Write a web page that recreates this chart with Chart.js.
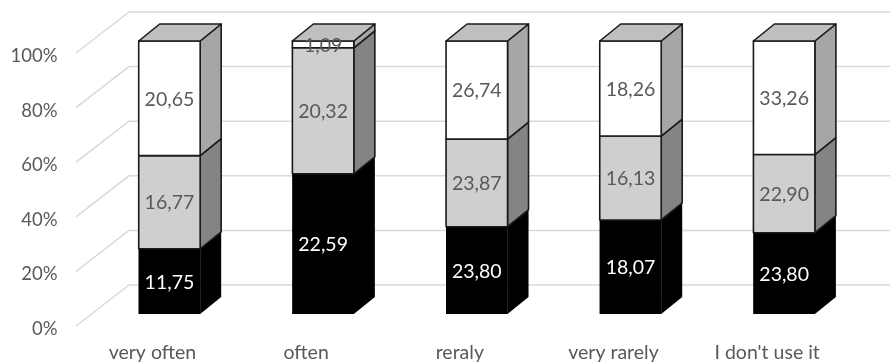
<!DOCTYPE html>
<html>
<head>
<meta charset="utf-8">
<style>
  html, body { margin: 0; padding: 0; background: #fff; }
  canvas { display: block; }
</style>
<script src="https://cdn.jsdelivr.net/npm/chart.js@4"></script>
</head>
<body>
<canvas id="chart" width="890" height="362"></canvas>
<script>
const categories = ['very often', 'often', 'reraly', 'very rarely', "I don't use it"];
const seriesBottom = [11.75, 22.59, 23.80, 18.07, 23.80];
const seriesMiddle = [16.77, 20.32, 23.87, 16.13, 22.90];
const seriesTop = [20.65, 1.09, 26.74, 18.26, 33.26];
const percentTicks = [0, 20, 40, 60, 80, 100];

// Each column is normalised to 100 %, the printed labels keep the raw figures.
const totals = categories.map((_, i) => seriesBottom[i] + seriesMiddle[i] + seriesTop[i]);
const toShare = values => values.map((v, i) => v / totals[i] * 100);

const FONT = 'Lato, "Open Sans", sans-serif';
const TEXT = '#595959';
const GRID = '#d9d9d9';

// Oblique projection of the box depth and of the back wall.
const BAR_DX = 21, BAR_DY = 17;
const WALL_X = 129, WALL_DY = 29, FLOOR_X = 76, FLOOR_DY = 12;

const layers = [
  { values: seriesBottom, front: '#000000', side: '#000000', text: '#ffffff' },
  { values: seriesMiddle, front: '#d0cece', side: '#868383', text: TEXT },
  { values: seriesTop,    front: '#ffffff', side: '#a6a6a6', text: TEXT }
];
const TOP_FACE = '#bfbfbf';
const EDGE = '#1a1a1a';

function polygon(ctx, pts, fill, stroke) {
  ctx.beginPath();
  pts.forEach((p, i) => i ? ctx.lineTo(p[0], p[1]) : ctx.moveTo(p[0], p[1]));
  ctx.closePath();
  ctx.fillStyle = fill;
  ctx.fill();
  if (stroke) {
    ctx.strokeStyle = stroke;
    ctx.lineWidth = 1.6;
    ctx.lineJoin = 'round';
    ctx.stroke();
  }
}

const wallGrid = {
  id: 'wallGrid',
  beforeDatasetsDraw(chart) {
    const { ctx, scales: { y }, width } = chart;
    ctx.save();
    ctx.strokeStyle = GRID;
    ctx.lineWidth = 1.5;
    percentTicks.forEach(t => {
      const py = y.getPixelForValue(t);
      ctx.beginPath();
      ctx.moveTo(FLOOR_X, py + FLOOR_DY);
      ctx.lineTo(WALL_X, py - WALL_DY);
      ctx.lineTo(width, py - WALL_DY);
      ctx.stroke();
    });
    ctx.restore();
  }
};

const boxFaces = {
  id: 'boxFaces',
  afterDatasetsDraw(chart) {
    const { ctx } = chart;
    ctx.save();
    layers.forEach((layer, d) => {
      const stroke = layer.front === '#000000' ? null : EDGE;
      chart.getDatasetMeta(d).data.forEach(bar => {
        const l = bar.x - bar.width / 2, r = bar.x + bar.width / 2;
        const t = bar.y, b = bar.base;
        polygon(ctx, [[r, t], [r + BAR_DX, t - BAR_DY], [r + BAR_DX, b - BAR_DY], [r, b]], layer.side, stroke);
        polygon(ctx, [[l, t], [r, t], [r, b], [l, b]], layer.front, stroke);
        if (d === layers.length - 1) {
          polygon(ctx, [[l, t], [l + BAR_DX, t - BAR_DY], [r + BAR_DX, t - BAR_DY], [r, t]], TOP_FACE, stroke);
        }
      });
    });
    ctx.font = '19.5px ' + FONT;
    ctx.textAlign = 'center';
    ctx.textBaseline = 'middle';
    layers.forEach((layer, d) => {
      ctx.fillStyle = layer.text;
      chart.getDatasetMeta(d).data.forEach((bar, i) => {
        const label = layer.values[i].toFixed(2).replace('.', ',');
        ctx.fillText(label, bar.x, (bar.y + bar.base) / 2 + 1);
      });
    });
    ctx.restore();
  }
};

new Chart(document.getElementById('chart'), {
  type: 'bar',
  data: {
    labels: categories,
    datasets: layers.map(layer => ({
      data: toShare(layer.values),
      backgroundColor: layer.front,
      borderWidth: 0,
      barPercentage: 0.4,
      categoryPercentage: 1
    }))
  },
  options: {
    responsive: false,
    animation: false,
    layout: { padding: { left: 0, right: 29, top: 41, bottom: 0 } },
    plugins: { legend: { display: false }, tooltip: { enabled: false } },
    scales: {
      x: {
        stacked: true,
        afterFit: s => { s.height = 48; s.paddingLeft = 0; s.paddingRight = 0; },
        grid: { display: false, drawTicks: false },
        border: { display: false },
        ticks: {
          color: TEXT,
          font: { family: FONT, size: 19.5 },
          padding: 27,
          labelOffset: -17,
          maxRotation: 0,
          autoSkip: false
        }
      },
      y: {
        stacked: true,
        min: 0,
        max: 100,
        afterFit: s => { s.width = 92.6; s.paddingTop = 0; s.paddingBottom = 0; },
        afterBuildTicks: s => { s.ticks = percentTicks.map(value => ({ value })); },
        grid: { display: false, drawTicks: false },
        border: { display: false },
        ticks: {
          color: TEXT,
          font: { family: FONT, size: 18.5 },
          padding: 35,
          labelOffset: 15,
          callback: v => v + '%'
        }
      }
    }
  },
  plugins: [wallGrid, boxFaces]
});
</script>
</body>
</html>
